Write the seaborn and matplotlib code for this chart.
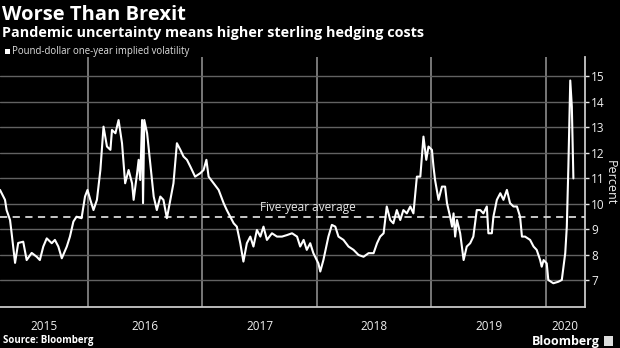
import matplotlib
matplotlib.use('Agg')
import matplotlib.pyplot as plt
import matplotlib.dates as mdates
import matplotlib.ticker as mticker
from matplotlib.patches import Rectangle
import pandas as pd
import seaborn as sns

# ---------------- data ----------------
dates = [
    '2015-03-28', '2015-04-13', '2015-04-18', '2015-04-29', '2015-05-04', '2015-05-15',
    '2015-05-25', '2015-06-10', '2015-06-21', '2015-07-07', '2015-07-23', '2015-08-02',
    '2015-08-13', '2015-08-24', '2015-09-09', '2015-09-19', '2015-09-30', '2015-10-11',
    '2015-10-27', '2015-11-06', '2015-11-17', '2015-11-27', '2015-12-13', '2015-12-24',
    '2016-01-01', '2016-01-10', '2016-01-20', '2016-01-31', '2016-02-11', '2016-02-21',
    '2016-03-03', '2016-03-14', '2016-03-19', '2016-03-30', '2016-04-09', '2016-04-20',
    '2016-04-30', '2016-05-11', '2016-05-22', '2016-05-27', '2016-06-07', '2016-06-12',
    '2016-06-17', '2016-06-23', '2016-06-26', '2016-06-30', '2016-07-09', '2016-07-19',
    '2016-07-30', '2016-08-09', '2016-08-20', '2016-08-30', '2016-09-10', '2016-09-21',
    '2016-10-01', '2016-10-12', '2016-10-23', '2016-11-02', '2016-11-13', '2016-11-24',
    '2016-12-09', '2016-12-25',
    '2017-01-05', '2017-01-14', '2017-01-21', '2017-02-06', '2017-02-22', '2017-03-10',
    '2017-03-20', '2017-03-31', '2017-04-11', '2017-04-21', '2017-05-02', '2017-05-12',
    '2017-05-23', '2017-06-03', '2017-06-13', '2017-06-24', '2017-07-05', '2017-07-15',
    '2017-07-26', '2017-08-11', '2017-08-27', '2017-09-12', '2017-09-28', '2017-10-14',
    '2017-10-30', '2017-11-09', '2017-11-20', '2017-11-30', '2017-12-11', '2017-12-21',
    '2018-01-06', '2018-01-12', '2018-01-22', '2018-02-07', '2018-02-18', '2018-03-01',
    '2018-03-11', '2018-03-27', '2018-04-12', '2018-04-28', '2018-05-14', '2018-05-30',
    '2018-06-15', '2018-07-01', '2018-07-12', '2018-07-22', '2018-08-02', '2018-08-12',
    '2018-08-23', '2018-09-02', '2018-09-13', '2018-09-24', '2018-10-04', '2018-10-15',
    '2018-10-26', '2018-11-05', '2018-11-16', '2018-11-27', '2018-12-07', '2018-12-16',
    '2018-12-23',
    '2019-01-03', '2019-01-08', '2019-01-13', '2019-01-24', '2019-02-04', '2019-02-14',
    '2019-02-20', '2019-03-02', '2019-03-08', '2019-03-13', '2019-03-18', '2019-03-24',
    '2019-04-03', '2019-04-14', '2019-04-24', '2019-05-05', '2019-05-15', '2019-05-26',
    '2019-06-06', '2019-06-16', '2019-06-27', '2019-07-02', '2019-07-13', '2019-07-18',
    '2019-07-29', '2019-08-09', '2019-08-19', '2019-08-30', '2019-09-09', '2019-09-20',
    '2019-10-01', '2019-10-11', '2019-10-17', '2019-10-27', '2019-11-12', '2019-11-23',
    '2019-12-03', '2019-12-14', '2019-12-19', '2019-12-25',
    '2020-01-04', '2020-01-09', '2020-01-25', '2020-02-10', '2020-02-21', '2020-03-03',
    '2020-03-08', '2020-03-13', '2020-03-19', '2020-03-24', '2020-03-29',
]
volatility = [
    10.55, 10.16, 9.76, 9.37, 8.86, 7.69,
    8.47, 8.52, 7.80, 8.08, 7.93, 7.80,
    8.33, 8.65, 8.46, 8.59, 8.33, 7.87,
    8.33, 8.72, 9.31, 9.50, 9.44, 10.29,
    10.55, 10.16, 9.76, 10.16, 11.33, 13.03,
    12.25, 12.12, 12.90, 12.77, 13.29, 12.38,
    10.81, 11.33, 10.81, 10.16, 11.20, 11.73,
    10.94, 13.29, 10.03, 13.29, 12.77, 11.60,
    10.29, 9.76, 10.29, 10.16, 9.44, 10.16,
    10.81, 12.38, 12.12, 11.86, 11.73, 11.46,
    11.07, 11.20,
    11.33, 11.73, 11.07, 10.81, 10.55, 10.03,
    9.76, 9.50, 9.24, 9.11, 8.46, 7.74,
    8.46, 8.72, 8.33, 8.98, 8.72, 9.11,
    8.59, 8.85, 8.72, 8.72, 8.78, 8.85,
    8.72, 8.33, 8.59, 8.20, 8.46, 8.07,
    7.67, 7.35, 7.80, 8.72, 9.18, 9.11,
    8.72, 8.59, 8.33, 8.20, 8.00, 7.93,
    8.07, 8.07, 8.46, 8.72, 8.85, 9.90,
    9.37, 9.24, 9.76, 9.37, 9.76, 9.63,
    9.90, 9.63, 11.07, 11.07, 12.64, 11.73,
    12.25,
    12.12, 11.46, 10.94, 10.16, 10.68, 10.68,
    10.03, 9.50, 9.11, 9.63, 8.72, 9.37,
    8.85, 7.80, 8.33, 8.46, 8.72, 9.76,
    9.76, 9.63, 9.90, 8.85, 8.85, 9.50,
    10.16, 10.42, 10.16, 10.55, 10.03, 9.90,
    9.90, 9.50, 8.72, 8.72, 8.59, 8.33,
    8.20, 7.80, 7.54, 7.80,
    7.67, 7.02, 6.89, 6.95, 7.02, 8.07,
    9.11, 11.46, 14.84, 13.82, 11.00,
]
five_year_average = 9.48
y_ticks = [7, 8, 9, 10, 11, 12, 13, 14, 15]
year_labels = ['2015', '2016', '2017', '2018', '2019', '2020']
x_start, x_end = '2015-03-28', '2020-05-05'

title = 'Worse Than Brexit'
subtitle = 'Pandemic uncertainty means higher sterling hedging costs'
legend_label = 'Pound-dollar one-year implied volatility'
avg_label = 'Five-year average'
y_title = 'Percent'
source = 'Source: Bloomberg'

# ---------------- style ----------------
sns.set_style('dark')
plt.rcParams['font.family'] = ['Open Sans', 'DejaVu Sans']

df = pd.DataFrame({'date': pd.to_datetime(dates), 'vol': volatility})

W, H = 620, 348
fig = plt.figure(figsize=(W / 100, H / 100), dpi=100, facecolor='black')
ax = fig.add_axes([0, (H - 307) / H, 585 / W, (307 - 57) / H])
ax.set_facecolor('black')

sns.lineplot(data=df, x='date', y='vol', ax=ax, color='white', linewidth=1.5, zorder=5)
ax.axhline(five_year_average, color='#d8d8d8', linestyle=(0, (4, 3)), linewidth=1.3, zorder=4)

x0, x1 = pd.Timestamp(x_start), pd.Timestamp(x_end)
ax.set_xlim(x0, x1)
ax.set_ylim(5.96, 15.76)

# y axis on right
ax.yaxis.tick_right()
ax.set_yticks(y_ticks)
ax.set_yticklabels([str(t) for t in y_ticks])
ax.tick_params(axis='y', which='major', colors='#e8e8e8', labelsize=8.5, length=3,
               width=1, pad=1.5, direction='out', labelcolor='#f0f0f0')
ax.set_ylabel('')
fig.text(610.5 / W, 1 - 183 / H, y_title, rotation=270, color='#f0f0f0', fontsize=9,
         ha='center', va='center')

# x axis: year boundaries as major ticks, quarters as minor
ax.xaxis.set_major_locator(mdates.YearLocator())
ax.xaxis.set_minor_locator(mdates.MonthLocator(bymonth=[4, 7, 10]))
ax.xaxis.set_major_formatter(mticker.NullFormatter())
ax.tick_params(axis='x', which='major', length=28, width=1.2, color='#8c8c8c', direction='out')
ax.tick_params(axis='x', which='minor', length=3, width=1, color='#bbbbbb', direction='in')
ax.set_xlabel('')

ax.grid(False)
ax.grid(axis='y', which='major', color='#626262', linewidth=1, zorder=1)
ax.grid(axis='x', which='major', color='#8c8c8c', linewidth=1.2, zorder=1)

for side in ['top', 'left']:
    ax.spines[side].set_visible(False)
for side in ['bottom', 'right']:
    ax.spines[side].set_visible(True)
    ax.spines[side].set_color('#c8c8c8')
    ax.spines[side].set_linewidth(1.3)

# year labels centred in visible part of each year
trans = ax.get_xaxis_transform()
for lab in year_labels:
    ys = max(pd.Timestamp(f'{lab}-01-01'), x0)
    ye = min(pd.Timestamp(f'{int(lab) + 1}-01-01'), x1)
    mid = ys + (ye - ys) / 2
    ax.text(mid, -0.08, lab, transform=trans, ha='center', va='center',
            color='#f0f0f0', fontsize=8.5)

# five-year average label
ax.text(pd.Timestamp('2017-07-05'), five_year_average + 0.13, avg_label,
        color='#e8e8e8', fontsize=8.5, ha='left', va='bottom', zorder=6)

# titles and legend
fig.text(0.003, 1 - 15 / H, title, color='white', fontsize=14.5, fontweight='bold',
         ha='left', va='center')
fig.text(0.003, 1 - 33 / H, subtitle, color='white', fontsize=10.4, fontweight='bold',
         ha='left', va='center')
fig.patches.append(Rectangle((5 / W, 1 - 54 / H), 5 / W, 5 / H, transform=fig.transFigure,
                             facecolor='white', edgecolor='none'))
fig.text(12 / W, 1 - 51.5 / H, legend_label, color='#e0e0e0', fontsize=6.9,
         ha='left', va='center')

fig.text(3 / W, 1 - 341 / H, source, color='white', fontsize=7, fontweight='bold',
         ha='left', va='center')
fig.text(600 / W, 1 - 341 / H, 'Bloomberg', color='white', fontsize=9, fontweight='bold',
         ha='right', va='center')
fig.patches.append(Rectangle((604 / W, 1 - 346 / H), 9 / W, 10 / H, transform=fig.transFigure,
                             facecolor='#dddddd', edgecolor='none'))

fig.savefig('out.png', dpi=100, facecolor='black')
